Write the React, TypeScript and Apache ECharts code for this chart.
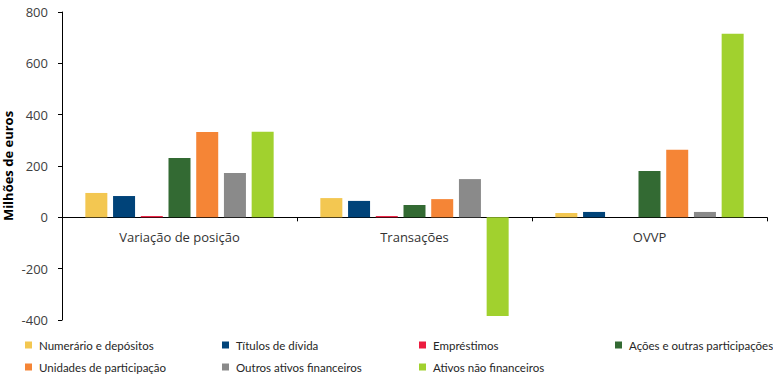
import React, { useEffect, useRef } from "react";
import * as echarts from "echarts";

const categories = ["Variação de posição", "Transações", "OVVP"];
const seriesNames = [
  "Numerário e depósitos",
  "Títulos de dívida",
  "Empréstimos",
  "Ações e outras participações",
  "Unidades de participação",
  "Outros ativos financeiros",
  "Ativos não financeiros",
];
const numerario = [95, 75, 17];
const titulos = [83, 64, 21];
const emprestimos = [5, 5, 0];
const acoes = [231, 48, 181];
const unidades = [332, 71, 263];
const outros = [173, 149, 21];
const ativosNaoFin = [333, -384, 715];
const colors = ["#F3C751", "#004379", "#EC1C3F", "#336A33", "#F58536", "#8A8A8A", "#A1D12E"];
const yTicks = { min: -400, max: 800, interval: 200 };

export default function App() {
  const ref = useRef<HTMLDivElement>(null);
  useEffect(() => {
    if (!ref.current) return;
    const chart = echarts.init(ref.current, null, { renderer: "svg" });
    const values = [numerario, titulos, emprestimos, acoes, unidades, outros, ativosNaoFin];
    const legendFont = {
      fontFamily: "Lato, 'Open Sans', sans-serif",
      fontSize: 11.5,
      color: "#262626",
      lineHeight: 14,
      padding: [0, 0, 0, 2],
    };
    const columns = [
      { left: 25, data: [seriesNames[0], seriesNames[4]] },
      { left: 222, data: [seriesNames[1], seriesNames[5]] },
      { left: 419, data: [seriesNames[2], seriesNames[6]] },
      { left: 615, data: [seriesNames[3]] },
    ];
    const gridTop = 12;
    const gridBottom = 59;
    const plotH = 379 - gridTop - gridBottom;
    const zeroFromBottom = (plotH * (0 - yTicks.min)) / (yTicks.max - yTicks.min);
    chart.setOption({
      animation: false,
      color: colors,
      grid: { left: 62, right: 6, top: gridTop, bottom: gridBottom, containLabel: false, outerBoundsMode: "none" },
      legend: columns.map((c) => ({
        orient: "vertical",
        left: c.left,
        top: 338,
        itemWidth: 7,
        itemHeight: 7,
        itemGap: 8,
        padding: 0,
        icon: "rect",
        selectedMode: false,
        data: c.data,
        textStyle: legendFont,
      })),
      xAxis: {
        type: "category",
        data: categories,
        axisLine: { onZero: true, lineStyle: { color: "#000", width: 1 } },
        axisTick: { show: true, length: 4, inside: false, lineStyle: { color: "#000" } },
        axisLabel: {
          margin: 13 - zeroFromBottom,
          fontFamily: "'Open Sans', sans-serif",
          fontSize: 13,
          color: "#333",
        },
      },
      yAxis: {
        type: "value",
        min: yTicks.min,
        max: yTicks.max,
        interval: yTicks.interval,
        name: "Milhões de euros",
        nameLocation: "middle",
        nameGap: 48,
        nameMoveOverlap: false,
        nameRotate: 90,
        nameTextStyle: {
          fontFamily: "'Open Sans', sans-serif",
          fontSize: 13,
          fontWeight: "bold",
          color: "#000",
        },
        axisLine: { show: true, lineStyle: { color: "#000", width: 1 } },
        axisTick: { show: true, length: 4, lineStyle: { color: "#000" } },
        splitLine: { show: false },
        axisLabel: {
          margin: 14,
          fontFamily: "'Open Sans', sans-serif",
          fontSize: 13,
          color: "#404040",
        },
      },
      series: seriesNames.map((name, i) => ({
        name,
        type: "bar",
        data: values[i],
        barWidth: 22,
        barGap: "26%",
        itemStyle: { color: colors[i] },
      })),
    });
    return () => chart.dispose();
  }, []);
  return <div ref={ref} style={{ width: 773, height: 379, position: "absolute", left: 0, top: 0 }} />;
}
